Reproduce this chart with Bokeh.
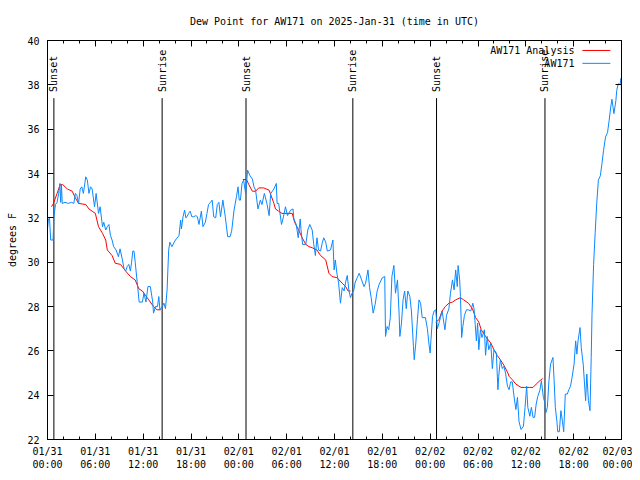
import math
from bokeh.plotting import figure
from bokeh.models import Range1d, FixedTicker, LinearAxis, Label
from bokeh.embed import file_html
from bokeh.resources import INLINE

FONT = "DejaVu Sans Mono"

# ---- data (hours after 2025-01-31 00:00 UTC) ----
obs_hours = [0.0, 0.1, 0.25, 0.4, 0.7, 0.8, 1.0, 1.2, 1.4, 1.55, 1.65, 1.75, 1.85, 2.2, 2.6, 3.0, 3.3, 3.5, 3.7, 3.9,
             4.1, 4.3, 4.5, 4.8, 5.0, 5.2, 5.4, 5.6, 5.9, 6.1, 6.4, 6.6, 6.9, 7.06, 7.3, 7.5, 7.7, 7.9, 8.1, 8.3,
             8.6, 8.9, 9.1, 9.4, 9.6, 9.8, 10.0, 10.2, 10.4, 10.55, 10.7, 10.85, 11.0, 11.25, 11.5, 11.9, 12.1, 12.35, 12.6, 12.9,
             13.2, 13.3, 13.55, 13.8, 13.96, 14.1, 14.4, 14.6, 14.8, 15.0, 15.2, 15.35, 15.6, 16.05, 16.5, 16.7, 16.8, 17.0, 17.2, 17.35,
             17.5, 17.7, 17.9, 18.1, 18.35, 18.6, 18.8, 19.0, 19.3, 19.5, 19.8, 20.0, 20.2, 20.45, 20.65, 20.85, 21.1, 21.3, 21.5, 21.7,
             22.0, 22.3, 22.6, 22.9, 23.1, 23.4, 23.7, 23.9, 24.05, 24.2, 24.4, 24.6, 24.85, 25.1, 25.4, 25.7, 25.9, 26.1, 26.4, 26.7,
             26.9, 27.2, 27.55, 27.8, 28.0, 28.4, 28.7, 28.8, 29.0, 29.35, 29.6, 29.85, 30.1, 30.5, 30.8, 30.9, 31.2, 31.45, 31.7, 31.8,
             32.0, 32.4, 32.65, 32.9, 33.2, 33.4, 33.6, 33.8, 34.0, 34.25, 34.45, 34.65, 34.9, 35.1, 35.5, 35.8, 35.95, 36.1, 36.3, 36.5,
             36.75, 36.97, 37.2, 37.4, 37.6, 37.8, 38.0, 38.2, 38.4, 38.6, 38.85, 39.1, 39.4, 39.7, 39.9, 40.2, 40.4, 40.6, 40.85, 41.1,
             41.35, 41.6, 42.0, 42.3, 42.4, 42.6, 42.8, 43.0, 43.2, 43.45, 43.65, 43.9, 44.1, 44.2, 44.4, 44.6, 44.8, 45.0, 45.2, 45.45,
             45.65, 45.9, 46.0, 46.2, 46.4, 46.6, 46.8, 47.0, 47.4, 47.65, 47.85, 48.0, 48.1, 48.3, 48.5, 48.7, 48.9, 49.1, 49.3, 49.5,
             49.7, 49.85, 50.05, 50.35, 50.55, 50.8, 51.0, 51.2, 51.4, 51.5, 51.7, 51.8, 51.95, 52.1, 52.3, 52.55, 52.8, 53.1, 53.35, 53.5,
             53.65, 53.8, 53.95, 54.1, 54.3, 54.5, 54.8, 54.95, 55.15, 55.35, 55.6, 55.8, 56.0, 56.3, 56.5, 56.6, 56.8, 57.05, 57.25, 57.45,
             57.7, 57.9, 58.1, 58.3, 58.5, 58.75, 58.95, 59.15, 59.4, 59.7, 59.9, 60.1, 60.25, 60.5, 60.7, 60.9, 61.1, 61.3, 61.5, 61.75,
             61.95, 62.2, 62.4, 62.5, 62.7, 62.9, 63.1, 63.4, 63.55, 63.7, 63.9, 64.0, 64.2, 64.4, 64.6, 64.75, 64.95, 65.2, 65.4, 65.6,
             65.8, 66.05, 66.25, 66.4, 66.55, 66.8, 66.95, 67.2, 67.5, 67.65, 67.85, 68.05, 68.2, 68.3, 68.5, 68.7, 68.9, 69.1, 69.35, 69.55,
             69.75, 70.0, 70.25, 70.45, 70.65, 70.8, 71.05, 71.3, 71.4, 71.6, 71.8, 71.95, 72.0]
obs_dewpt = [31.5, 31.9, 32.0, 31.0, 31.0, 32.05, 32.6, 32.7, 33.1, 33.55, 32.7, 33.5, 32.65, 32.7, 32.65, 32.7, 32.65, 33.1, 33.0, 32.65,
             33.3, 33.4, 33.1, 33.85, 33.7, 33.1, 33.4, 33.3, 32.5, 33.1, 32.2, 32.5, 31.6, 31.8, 31.45, 31.6, 31.7, 31.2, 31.0, 30.7,
             30.55, 30.25, 30.6, 30.1, 29.7, 29.6, 29.8, 29.9, 29.6, 30.0, 30.5, 30.5, 30.0, 29.1, 28.2, 28.2, 28.6, 28.2, 28.9, 28.9,
             28.2, 27.7, 28.0, 28.0, 28.45, 27.85, 28.0, 28.15, 27.9, 28.75, 30.55, 30.9, 30.7, 31.0, 31.2, 31.9, 31.5, 32.05, 32.35, 32.0,
             32.05, 32.2, 32.3, 32.05, 32.05, 32.1, 32.05, 31.7, 32.3, 31.6, 31.8, 32.2, 32.6, 32.7, 32.8, 32.05, 32.0, 32.6, 32.7, 32.05,
             32.8, 32.05, 31.15, 31.15, 31.4, 32.35, 32.95, 33.4, 32.8, 32.8, 33.55, 33.7, 33.1, 34.15, 33.9, 33.75, 33.4, 33.25, 32.4, 32.8,
             32.6, 33.1, 32.6, 32.1, 33.1, 33.3, 33.55, 32.65, 32.65, 31.7, 32.05, 32.5, 32.1, 32.35, 32.4, 31.95, 31.7, 31.1, 31.95, 31.45,
             30.8, 30.8, 31.45, 31.7, 31.45, 30.8, 30.3, 31.1, 30.55, 30.5, 30.85, 31.1, 30.9, 30.5, 30.55, 31.0, 29.65, 30.1, 29.5, 29.1,
             28.15, 28.85, 28.7, 29.1, 29.4, 28.75, 28.4, 28.6, 28.7, 29.1, 29.3, 29.5, 29.2, 28.9, 29.05, 29.65, 28.85, 28.4, 27.7, 28.1,
             28.7, 29.0, 29.3, 29.35, 26.65, 27.1, 26.95, 27.5, 29.35, 29.85, 28.6, 29.2, 27.7, 26.65, 27.25, 28.3, 28.7, 27.9, 28.7, 28.45,
             27.8, 26.2, 25.6, 26.35, 27.4, 28.3, 28.15, 27.5, 27.5, 27.0, 26.3, 25.9, 26.5, 27.55, 27.8, 27.85, 27.0, 27.25, 27.5, 27.8,
             27.3, 26.95, 27.6, 27.9, 28.6, 29.2, 28.75, 29.65, 28.9, 29.85, 29.2, 28.45, 26.6, 27.1, 27.6, 27.85, 27.85, 27.8, 28.15, 27.9,
             27.2, 26.45, 27.25, 26.05, 26.95, 26.6, 26.95, 25.8, 26.65, 26.05, 26.35, 25.2, 26.05, 25.9, 24.25, 24.85, 25.6, 25.2, 25.3, 25.0,
             24.4, 24.25, 24.6, 24.6, 24.0, 23.35, 23.9, 22.8, 22.45, 22.6, 23.45, 24.4, 23.45, 23.05, 23.45, 23.0, 23.0, 23.6, 23.95, 24.2,
             24.65, 23.9, 23.65, 23.2, 23.45, 24.65, 25.4, 25.7, 24.65, 23.45, 22.8, 22.35, 22.35, 23.3, 22.8, 22.35, 24.05, 24.05, 24.25, 24.4,
             24.8, 25.4, 26.45, 25.85, 26.45, 27.05, 26.15, 25.4, 23.75, 24.95, 23.75, 23.3, 25.7, 27.65, 29.9, 31.35, 32.7, 33.7, 33.9, 34.45,
             35.05, 35.65, 35.85, 36.4, 37.0, 37.35, 36.7, 37.3, 37.75, 38.05, 38.0, 38.3, 37.7]

nan = float("nan")
ana_hours = [0.5, 0.75, 1.2, 1.6, 1.9, 2.5, 3.1, 3.5, 3.9, 4.8, 5.2, 5.6, 6.0, 6.4, 6.9, 7.3, 7.5, 8.1, 8.5, 9.16,
             9.8, 10.4, 11.0, 11.45, 11.9, 12.3, 12.7, 13.3, 13.75, 14.2, 19.0,
             24.5, 24.96, 25.25, 25.7, 26.1, 26.5, 27.1, 27.8, 28.05, 28.4, 28.6, 29.0, 29.4, 30.7, 31.0, 31.5, 31.95, 32.4, 32.8,
             33.2, 33.8, 34.25, 34.9, 35.3, 35.7, 36.3, 36.97, 37.4, 37.7, 38.0, 43.0,
             48.7, 49.1, 49.5, 49.9, 50.35, 50.8, 51.2, 51.8, 52.2, 52.8, 53.3, 53.7, 54.1, 54.4, 54.95, 55.6, 56.0, 56.4,
             56.8, 57.25, 57.75, 57.9, 58.3, 58.75, 59.4, 59.8, 60.5, 60.9, 61.3, 61.75, 62.1]
ana_dewpt = [32.5, 32.65, 33.1, 33.5, 33.5, 33.3, 33.2, 32.9, 32.65, 32.6, 32.4, 32.3, 32.2, 31.6, 31.3, 31.0, 30.55, 30.3, 29.95, 29.9,
             29.6, 29.35, 29.2, 28.8, 28.7, 28.5, 28.3, 28.0, 27.85, 27.85, nan,
             33.73, 33.73, 33.5, 33.2, 33.2, 33.35, 33.35, 33.25, 33.0, 32.65, 32.4, 32.3, 32.2, 32.2, 31.8, 31.45, 31.1, 30.8, 30.7,
             30.65, 30.55, 30.3, 30.1, 29.5, 29.35, 29.3, 29.05, 28.9, 28.7, 28.7, nan,
             27.3, 27.4, 27.8, 28.0, 28.15, 28.2, 28.3, 28.4, 28.3, 28.15, 27.9, 27.5, 27.3, 26.95, 26.65, 26.35, 26.05, 25.8,
             25.6, 25.35, 25.0, 24.85, 24.7, 24.5, 24.35, 24.35, 24.35, 24.35, 24.5, 24.65, 24.75]

sunset_hours = [0.8, 24.9, 48.8]
sunrise_hours = [14.38, 38.3, 62.4]

x_tick_hours = [0, 6, 12, 18, 24, 30, 36, 42, 48, 54, 60, 66, 72]
x_tick_labels = ["01/31\n00:00", "01/31\n06:00", "01/31\n12:00", "01/31\n18:00",
                 "02/01\n00:00", "02/01\n06:00", "02/01\n12:00", "02/01\n18:00",
                 "02/02\n00:00", "02/02\n06:00", "02/02\n12:00", "02/02\n18:00",
                 "02/03\n00:00"]
x_minor_hours = [h for h in range(0, 73, 2)]
y_tick_values = [22, 24, 26, 28, 30, 32, 34, 36, 38, 40]

BLUE = "#0a88ff"
RED = "#ff0000"

p = figure(width=632, height=472, output_backend="svg", toolbar_location=None,
           x_range=Range1d(0, 72), y_range=Range1d(22, 40),
           min_border_left=47, min_border_right=11, min_border_top=40, min_border_bottom=32)
p.background_fill_color = "white"
p.border_fill_color = "white"
p.outline_line_color = "black"
p.outline_line_width = 1
p.xgrid.visible = False
p.ygrid.visible = False

p.title.text = "Dew Point for AW171 on 2025-Jan-31 (time in UTC)"
p.title.align = "center"
p.title.text_font = FONT
p.title.text_font_size = "10px"
p.title.text_font_style = "normal"
p.title.text_color = "black"
p.title.standoff = 27

def style_axis(ax):
    ax.axis_line_color = "black"
    ax.major_tick_in = 6
    ax.major_tick_out = 0
    ax.minor_tick_in = 3
    ax.minor_tick_out = 0
    ax.major_tick_line_color = "black"
    ax.minor_tick_line_color = "black"
    ax.major_label_text_font = FONT
    ax.major_label_text_font_size = "10px"
    ax.major_label_text_color = "black"

xa = p.xaxis[0]
xa.ticker = FixedTicker(ticks=x_tick_hours, minor_ticks=x_minor_hours)
xa.major_label_overrides = {h: lab for h, lab in zip(x_tick_hours, x_tick_labels)}
style_axis(xa)
xa.major_label_standoff = 6

ya = p.yaxis[0]
ya.ticker = FixedTicker(ticks=y_tick_values, minor_ticks=[])
style_axis(ya)
ya.major_label_standoff = 8
ya.axis_label = "degrees F"
ya.axis_label_text_font = FONT
ya.axis_label_text_font_size = "10px"
ya.axis_label_text_font_style = "normal"
ya.axis_label_text_color = "black"
ya.axis_label_standoff = 6

# mirrored tick marks on top and right (no labels)
top = LinearAxis(ticker=FixedTicker(ticks=x_tick_hours, minor_ticks=x_minor_hours))
style_axis(top)
top.major_label_text_font_size = "0px"
top.major_label_text_color = None
top.major_label_standoff = 0
p.add_layout(top, "above")

right = LinearAxis(ticker=FixedTicker(ticks=y_tick_values, minor_ticks=[]))
style_axis(right)
right.major_label_text_font_size = "0px"
right.major_label_text_color = None
right.major_label_standoff = 0
p.add_layout(right, "right")

# sunrise / sunset markers
mark_hours = sunset_hours + sunrise_hours
mark_names = ["Sunset"] * len(sunset_hours) + ["Sunrise"] * len(sunrise_hours)
p.segment(x0=mark_hours, y0=[22] * len(mark_hours), x1=mark_hours, y1=[37.4] * len(mark_hours),
          line_color="black", line_width=1)
for h, name in zip(mark_hours, mark_names):
    p.add_layout(Label(x=h, y=37.68, text=name, angle=math.pi / 2, text_align="left",
                       text_baseline="middle", text_font=FONT, text_font_size="10px",
                       text_color="black"))

# data lines
p.line(ana_hours, ana_dewpt, line_color=RED, line_width=1)
p.line(obs_hours, obs_dewpt, line_color=BLUE, line_width=1)

# legend (text on left, sample on right)
legend_names = ["AW171 Analysis", "AW171"]
legend_colors = [RED, BLUE]
legend_rows_y = [39.55, 38.97]
for name, col, yy in zip(legend_names, legend_colors, legend_rows_y):
    p.add_layout(Label(x=66.1, y=yy, text=name, text_align="right", text_baseline="middle",
                       text_font=FONT, text_font_size="10px", text_color="black"))
    p.segment(x0=[67.1], y0=[yy], x1=[70.6], y1=[yy], line_color=col, line_width=1)

open("out.html", "w").write(file_html(p, INLINE))
